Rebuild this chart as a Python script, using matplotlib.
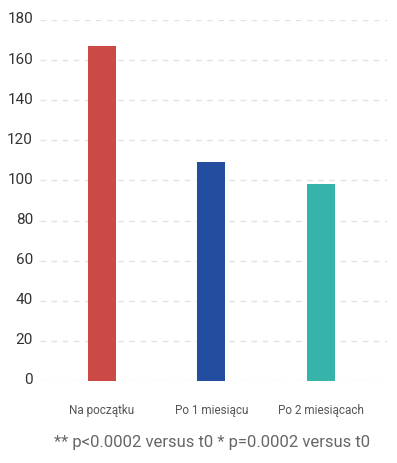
import matplotlib
matplotlib.use("Agg")
import matplotlib.pyplot as plt
import matplotlib.transforms as mtransforms

categories = ["Na początku", "Po 1 miesiącu", "Po 2 miesiącach"]
values = [167, 109, 98]
colors = ["#cc4a45", "#234ea0", "#37b4a9"]
yticks = [0, 20, 40, 60, 80, 100, 120, 140, 160, 180]
footnote = "** p<0.0002 versus t0 * p=0.0002 versus t0"

plt.rcParams['font.family'] = ['Roboto', 'DejaVu Sans']

W, H = 397, 464
fig = plt.figure(figsize=(W/100, H/100), dpi=100)
ax = fig.add_axes([40/W, (H-382)/H, (387-40)/W, (382-21)/H])

x = list(range(len(categories)))
ax.bar(x, values, width=0.256, color=colors, zorder=3)

ax.set_xlim(-0.566, 2.603)
ax.set_ylim(0, 180)
ax.set_yticks(yticks)
ax.set_xticks(x)
ax.set_xticklabels(categories, fontsize=8.5, color="#555555")
ax.yaxis.grid(True, color="#e2e2e2", linestyle=(0, (4, 4)), linewidth=1, zorder=0)
ax.set_axisbelow(True)
for s in ax.spines.values():
    s.set_visible(False)
ax.tick_params(axis='both', length=0)
ax.tick_params(axis='y', labelsize=11, labelcolor="#333333", pad=5)
ax.tick_params(axis='x', pad=16)

offset = mtransforms.ScaledTranslation(0, 3/100, fig.dpi_scale_trans)
for lab in ax.get_yticklabels():
    lab.set_transform(lab.get_transform() + offset)

fig.text(212/W, 1 - 443/H, footnote, ha='center', va='center', fontsize=12, color="#666666")

fig.savefig("out.png", dpi=100)
